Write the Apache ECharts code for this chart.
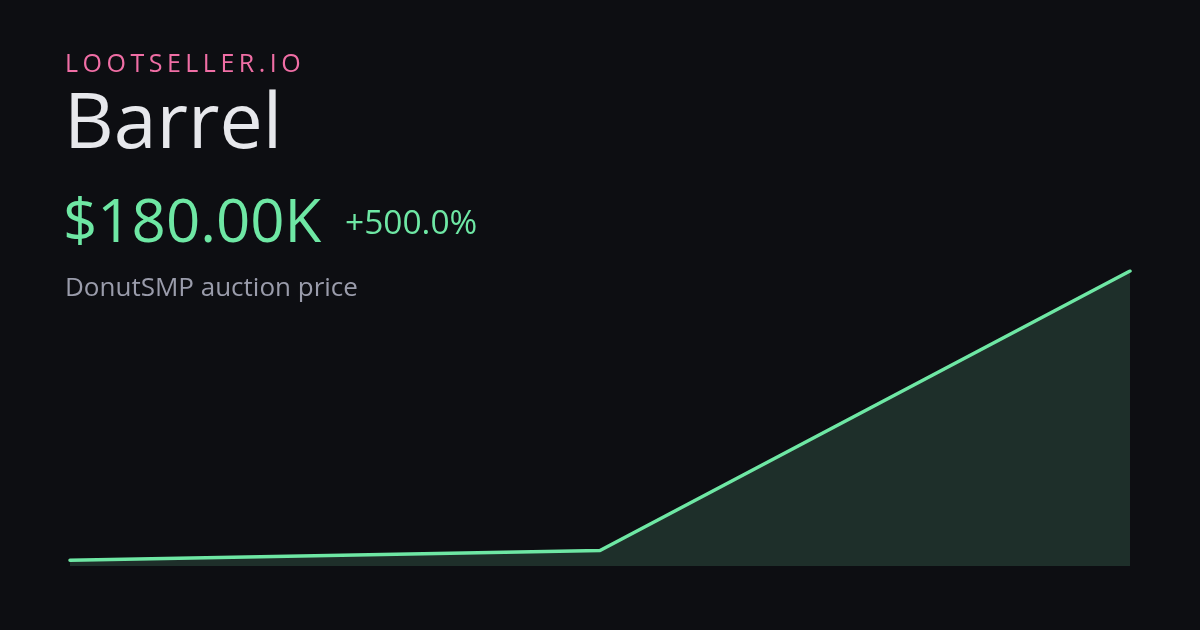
<!DOCTYPE html>
<html><head><meta charset="utf-8">
<script src="https://cdn.jsdelivr.net/npm/echarts@6/dist/echarts.min.js"></script>
<style>html,body{margin:0;padding:0;background:#0d0e12;}#c{width:1200px;height:630px;}</style>
</head><body><div id="c"></div>
<script>
const brand = 'LOOTSELLER.IO';
const itemName = 'Barrel';
const priceLabel = '$180.00K';
const changeLabel = '+500.0%';
const subtitle = 'DonutSMP auction price';
const categories = ['p1', 'p2', 'p3'];
const prices = [30, 35, 180]; // thousands
const yMin = 27;
const yMax = 180;

const font = '"Open Sans", "Noto Sans", sans-serif';
const mctx = document.createElement('canvas').getContext('2d');
function spacedText(str, x, y, size, color, spacing) {
  const f = '400 ' + size + 'px ' + font;
  mctx.font = f;
  const els = [];
  let cx = x;
  for (const ch of str) {
    els.push({type: 'text', x: cx, y: y, style: {text: ch, fill: color, font: f, verticalAlign: 'top'}});
    cx += mctx.measureText(ch).width + spacing;
  }
  return els;
}

const chart = echarts.init(document.getElementById('c'), null, {renderer: 'canvas'});
chart.setOption({
  backgroundColor: '#0d0e12',
  animation: false,
  grid: {left: 70, right: 70, top: 271, bottom: 64},
  xAxis: {type: 'category', data: categories, boundaryGap: false, show: false},
  yAxis: {type: 'value', min: yMin, max: yMax, show: false, splitLine: {show: false}},
  series: [{
    type: 'line', data: prices, symbol: 'none',
    lineStyle: {color: '#6ee7a4', width: 3.5, cap: 'round'},
    areaStyle: {color: '#1e2f2a', opacity: 1}
  }],
  graphic: [].concat(
    spacedText(brand, 65, 52.5, 25, '#f06ea5', 4.5),
    [
      {type: 'text', x: 64, y: 88, style: {text: itemName, fill: '#e7e8ec', font: '400 77px ' + font, verticalAlign: 'top'}},
      {type: 'text', x: 63, y: 195, style: {text: priceLabel, fill: '#6ee7a4', font: '400 60px ' + font, verticalAlign: 'top'}},
      {type: 'text', x: 345, y: 207, style: {text: changeLabel, fill: '#6ee7a4', font: '400 33.5px ' + font, verticalAlign: 'top'}},
      {type: 'text', x: 65, y: 275.5, style: {text: subtitle, fill: '#9a9cab', font: '400 26px ' + font, verticalAlign: 'top'}}
    ]
  )
});
</script></body></html>
